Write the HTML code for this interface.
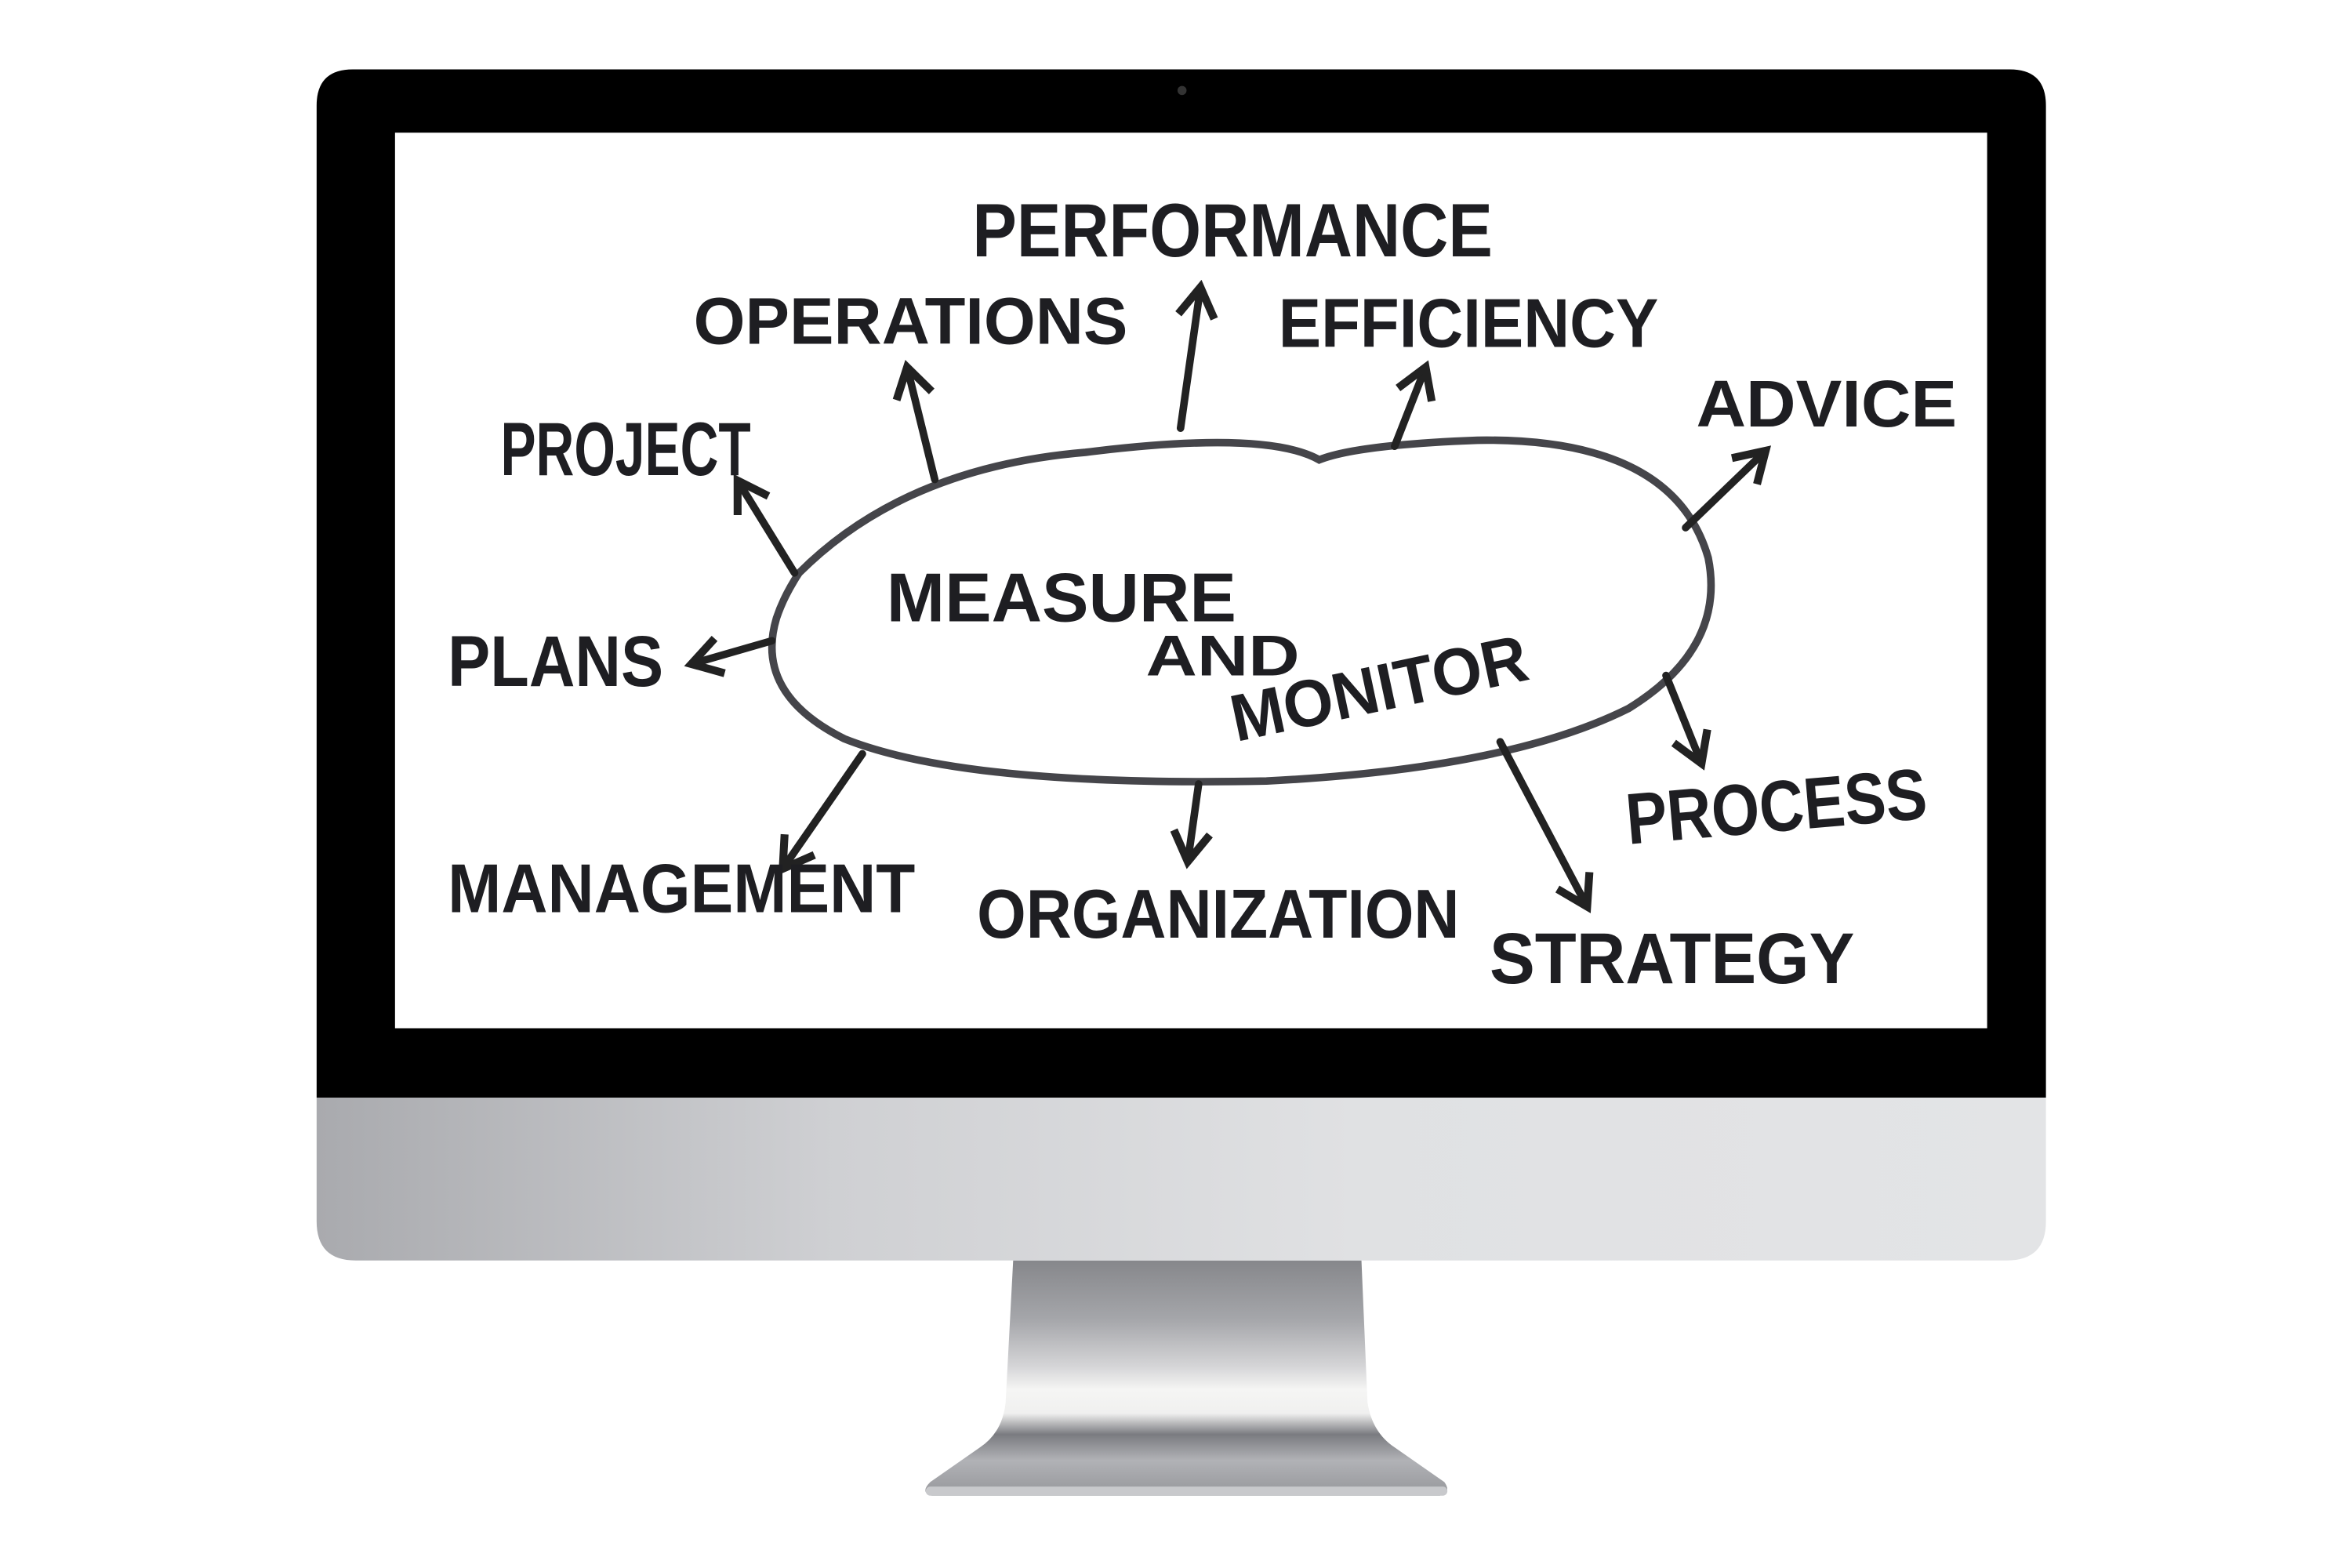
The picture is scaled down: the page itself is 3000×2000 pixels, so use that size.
<!DOCTYPE html>
<html><head><style>
html,body{margin:0;padding:0;background:#fff;}
svg{display:block;}
text{font-family:"Liberation Sans",sans-serif;font-weight:bold;fill:#1e1e22;}
</style></head><body>
<svg width="3000" height="2000" viewBox="0 0 1560 1040" xmlns="http://www.w3.org/2000/svg">
<defs>
<linearGradient id="chin" x1="0" x2="1" y1="0" y2="0">
<stop offset="0" stop-color="#a9aaae"/><stop offset="0.3" stop-color="#cfd0d3"/><stop offset="0.6" stop-color="#e0e1e3"/><stop offset="1" stop-color="#e3e4e6"/>
</linearGradient>
<linearGradient id="stand" x1="0" x2="0" y1="0" y2="1">
<stop offset="0" stop-color="#86878b"/><stop offset="0.25" stop-color="#a5a6aa"/><stop offset="0.45" stop-color="#d5d5d7"/><stop offset="0.55" stop-color="#f5f5f4"/><stop offset="0.65" stop-color="#f0f0ef"/><stop offset="0.74" stop-color="#7a7b80"/><stop offset="0.85" stop-color="#b1b2b6"/><stop offset="1" stop-color="#96979b"/>
</linearGradient>
<marker id="ah" viewBox="0 0 20 20" refX="14" refY="10" markerWidth="6" markerHeight="6" orient="auto" markerUnits="strokeWidth">
<path d="M2 2 L15 10 L2 18" fill="none" stroke="#222" stroke-width="3.5"/>
</marker>
</defs>
<path d="M672 836 L903 836 L907 930 Q910 950 925 960 L958 983 Q963 990 955 992 L618 992 Q610 990 617 983 L650 960 Q665 950 667 930 Z" fill="url(#stand)"/>
<rect x="614" y="986" width="346" height="6" rx="3" fill="#c8c9cc"/>
<path d="M210 728 L1357 728 L1357 810 Q1357 836 1331 836 L236 836 Q210 836 210 810 Z" fill="url(#chin)"/>
<path d="M234 46 L1333 46 Q1357 46 1357 70 L1357 728 L210 728 L210 70 Q210 46 234 46 Z" fill="#000"/>
<circle cx="784" cy="60" r="3" fill="#333"/>
<rect x="262" y="88" width="1056" height="594" fill="#fff"/>
<path d="M530 380 Q600 310 720 300 Q840 285 875 305 Q900 295 980 292 Q1110 290 1133 370 Q1145 430 1080 470 Q1000 510 840 518 Q640 522 560 490 Q500 460 515 410 Q520 395 530 380 Z" fill="none" stroke="#45454a" stroke-width="5"/>
<g stroke="#222" stroke-width="5" fill="none" stroke-linecap="round" marker-end="url(#ah)">
<line x1="783" y1="284" x2="796" y2="192"/>
<line x1="620" y1="318" x2="602" y2="245"/>
<line x1="925" y1="296" x2="945" y2="245"/>
<line x1="527" y1="380" x2="490" y2="320"/>
<line x1="512" y1="425" x2="460" y2="440"/>
<line x1="1118" y1="350" x2="1170" y2="300"/>
<line x1="1105" y1="448" x2="1128" y2="505"/>
<line x1="572" y1="500" x2="520" y2="575"/>
<line x1="795" y1="520" x2="788" y2="570"/>
<line x1="995" y1="492" x2="1052" y2="600"/>
</g>
<text x="645" y="170" font-size="50" textLength="345" lengthAdjust="spacingAndGlyphs">PERFORMANCE</text>
<text x="460" y="228" font-size="44" textLength="288" lengthAdjust="spacingAndGlyphs">OPERATIONS</text>
<text x="848" y="230" font-size="46" textLength="252" lengthAdjust="spacingAndGlyphs">EFFICIENCY</text>
<text x="332" y="315" font-size="50" textLength="166" lengthAdjust="spacingAndGlyphs">PROJECT</text>
<text x="1125" y="283" font-size="44" textLength="173" lengthAdjust="spacingAndGlyphs">ADVICE</text>
<text x="297" y="455" font-size="48" textLength="143" lengthAdjust="spacingAndGlyphs">PLANS</text>
<text x="588" y="412" font-size="46" textLength="232" lengthAdjust="spacingAndGlyphs" fill="#2a2c33">MEASURE</text>
<text x="760" y="448" font-size="38" textLength="102" lengthAdjust="spacingAndGlyphs" fill="#2a2c33">AND</text>
<text x="820" y="492" font-size="44" textLength="200" lengthAdjust="spacingAndGlyphs" transform="rotate(-12 820 492)" fill="#2a2c33">MONITOR</text>
<text x="1080" y="560" font-size="48" textLength="200" lengthAdjust="spacingAndGlyphs" transform="rotate(-5 1080 560)">PROCESS</text>
<text x="297" y="605" font-size="46" textLength="310" lengthAdjust="spacingAndGlyphs">MANAGEMENT</text>
<text x="648" y="622" font-size="46" textLength="320" lengthAdjust="spacingAndGlyphs">ORGANIZATION</text>
<text x="988" y="652" font-size="48" textLength="242" lengthAdjust="spacingAndGlyphs">STRATEGY</text>
</svg>
</body></html>
